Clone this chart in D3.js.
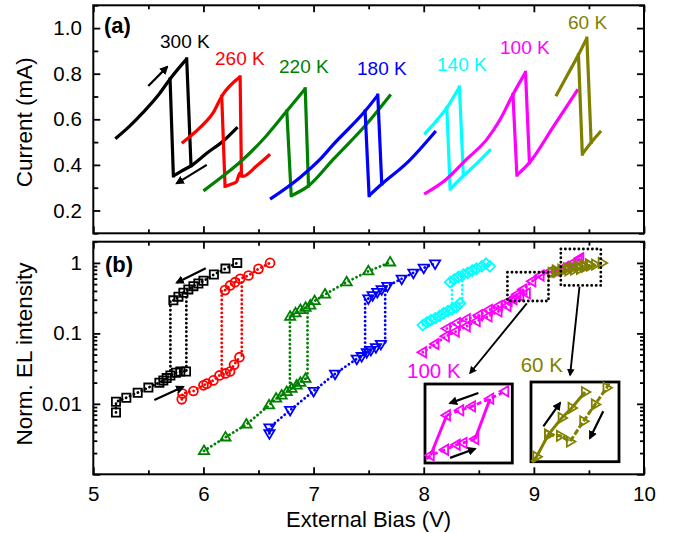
<!DOCTYPE html>
<html>
<head>
<meta charset="utf-8">
<script src="https://cdn.jsdelivr.net/npm/d3@7"></script>
<style>
  body { margin: 0; background: #fff; }
  text { font-family: "Liberation Sans", Arial, sans-serif; }
</style>
</head>
<body>
<div class="fig"></div>
<script>
// ---- panel (a): current vs bias, [V, mA] ----
var up300 = [[5.2, 0.515], [5.33, 0.57], [5.45, 0.629], [5.6, 0.712], [5.697, 0.777], [5.848, 0.865]];
var lo300 = [[5.727, 0.352], [5.8, 0.373], [5.887, 0.396], [6.03, 0.451], [6.18, 0.505], [6.31, 0.566]];
var jp300 = [[[5.848, 0.865], [5.887, 0.396]], [[5.727, 0.352], [5.697, 0.777]]];

var up260 = [[5.803, 0.495], [5.968, 0.563], [6.09, 0.63], [6.166, 0.701], [6.333, 0.786]];
var lo260 = [[6.196, 0.306], [6.25, 0.315], [6.3, 0.326], [6.33, 0.364], [6.357, 0.35], [6.484, 0.396], [6.605, 0.447]];
var jp260 = [[[6.333, 0.786], [6.345, 0.352]], [[6.196, 0.306], [6.166, 0.701]]];

var up220 = [[6.0, 0.286], [6.18, 0.352], [6.362, 0.425], [6.57, 0.527], [6.757, 0.636], [6.924, 0.734]];
var lo220 = [[6.797, 0.265], [6.954, 0.308], [7.18, 0.425], [7.48, 0.578], [7.701, 0.709]];
var jp220 = [[[6.924, 0.734], [6.954, 0.308]], [[6.797, 0.265], [6.757, 0.636]]];

var up180 = [[6.605, 0.25], [6.877, 0.345], [7.06, 0.425], [7.18, 0.49], [7.468, 0.636], [7.583, 0.706]];
var lo180 = [[7.504, 0.265], [7.619, 0.316], [7.85, 0.41], [8.11, 0.549]];
var jp180 = [[[7.583, 0.706], [7.619, 0.316]], [[7.504, 0.265], [7.468, 0.636]]];

var up140 = [[8.004, 0.534], [8.1, 0.585], [8.21, 0.651], [8.324, 0.742]];
var lo140 = [[8.24, 0.294], [8.36, 0.352], [8.49, 0.41], [8.61, 0.469]];
var jp140 = [[[8.324, 0.742], [8.36, 0.352]], [[8.24, 0.294], [8.21, 0.651]]];

var up100 = [[8.004, 0.272], [8.2, 0.335], [8.39, 0.425], [8.573, 0.512], [8.695, 0.6], [8.81, 0.709], [8.924, 0.806]];
var lo100 = [[8.846, 0.355], [8.96, 0.41], [9.18, 0.57], [9.4, 0.731]];
var jp100 = [[[8.924, 0.806], [8.96, 0.41]], [[8.846, 0.355], [8.81, 0.709]]];

var up60 = [[9.2, 0.701], [9.3, 0.79], [9.405, 0.883], [9.481, 0.956]];
var lo60 = [[9.44, 0.447], [9.52, 0.498], [9.61, 0.549]];
var jp60 = [[[9.481, 0.956], [9.52, 0.498]], [[9.44, 0.447], [9.405, 0.883]]];

var temps = ["300 K", "260 K", "220 K", "180 K", "140 K", "100 K", "60 K"];
var colors = ["#000000", "#ff0000", "#008000", "#0000ff", "#00ffff", "#ff00ff", "#808000"];

// ---- panel (b): normalized EL vs bias, [V, EL] ----
var el300Lo = [[5.206, 0.00755], [5.206, 0.0107], [5.3, 0.0122], [5.403, 0.0144], [5.5, 0.017], [5.6, 0.02], [5.636, 0.0215], [5.666, 0.0232], [5.7, 0.0253], [5.75, 0.0276], [5.79, 0.0288], [5.842, 0.0288]];
var el300Up = [[5.727, 0.294], [5.773, 0.332], [5.818, 0.378], [5.863, 0.421], [5.909, 0.468], [5.954, 0.511], [6.0, 0.557], [6.095, 0.684], [6.2, 0.83], [6.307, 1.0]];
var el300Jp = [[[5.7, 0.0297], [5.7, 0.288]], [[5.845, 0.0297], [5.845, 0.421]]];

var el260Lo = [[5.803, 0.0116], [5.81, 0.014], [5.909, 0.0152], [6.0, 0.0183], [6.03, 0.0193], [6.09, 0.0215], [6.145, 0.0253], [6.2, 0.027], [6.242, 0.0288], [6.278, 0.0358], [6.327, 0.0459]];
var el260Up = [[6.196, 0.411], [6.242, 0.479], [6.287, 0.533], [6.333, 0.595], [6.409, 0.663], [6.5, 0.823], [6.605, 1.0]];
var el260Jp = [[[6.166, 0.0314], [6.166, 0.421]], [[6.348, 0.0484], [6.348, 0.582]]];

var el220Lo = [[6.005, 0.00215], [6.2, 0.00335], [6.39, 0.0051], [6.596, 0.00955], [6.66, 0.0119], [6.71, 0.0132], [6.756, 0.0148], [6.8, 0.0164], [6.846, 0.0183], [6.88, 0.02], [6.927, 0.0227]];
var el220Up = [[6.787, 0.173], [6.836, 0.193], [6.88, 0.215], [6.927, 0.232], [6.97, 0.25], [7.01, 0.288], [7.104, 0.358], [7.3, 0.533], [7.497, 0.762], [7.695, 1.02]];
var el220Jp = [[[6.785, 0.015], [6.785, 0.165]], [[6.945, 0.0235], [6.945, 0.2]]];

var el180Lo = [[6.599, 0.0038], [6.599, 0.0046], [6.787, 0.00813], [7.0, 0.0152], [7.195, 0.0267], [7.392, 0.0435], [7.437, 0.0474], [7.483, 0.054], [7.52, 0.058], [7.566, 0.0635], [7.611, 0.0707]];
var el180Up = [[7.497, 0.311], [7.536, 0.347], [7.578, 0.386], [7.618, 0.421], [7.67, 0.468], [7.8, 0.595], [7.906, 0.723], [8.0, 0.85], [8.103, 0.977]];
var el180Jp = [[[7.468, 0.0484], [7.468, 0.31]], [[7.65, 0.0747], [7.65, 0.445]]];

var el140Lo = [[7.992, 0.131], [8.03, 0.143], [8.066, 0.154], [8.105, 0.164], [8.145, 0.177], [8.18, 0.193], [8.22, 0.208], [8.257, 0.22], [8.297, 0.237], [8.33, 0.267]];
var el140Up = [[8.24, 0.533], [8.277, 0.582], [8.316, 0.635], [8.36, 0.684], [8.4, 0.723], [8.44, 0.779], [8.48, 0.831], [8.527, 0.895], [8.566, 0.977], [8.6, 0.895]];
var el140Jp = [[[8.257, 0.232], [8.257, 0.495]], [[8.35, 0.273], [8.35, 0.648]]];

var el100Lo = [[7.992, 0.054], [8.105, 0.0707], [8.2, 0.0907], [8.29, 0.106], [8.39, 0.126], [8.48, 0.149], [8.587, 0.174], [8.678, 0.205], [8.76, 0.245], [8.815, 0.305], [8.875, 0.34], [8.935, 0.37]];
var el100Up = [[8.21, 0.117], [8.3, 0.14], [8.39, 0.159], [8.5, 0.181], [8.59, 0.215], [8.68, 0.245], [8.77, 0.288], [8.85, 0.358], [8.905, 0.421], [8.985, 0.55], [9.06, 0.663], [9.14, 0.747], [9.21, 0.762], [9.284, 0.878], [9.345, 0.977], [9.405, 1.09], [9.42, 1.17]];

var el60Lo = [[9.163, 0.723], [9.214, 0.747], [9.263, 0.779], [9.314, 0.787], [9.366, 0.805], [9.42, 0.823], [9.466, 0.878], [9.511, 0.916], [9.557, 0.946], [9.617, 1.0]];
var el60Up = [[9.2, 0.78], [9.25, 0.8], [9.3, 0.84], [9.35, 0.86], [9.4, 0.9], [9.45, 0.93], [9.5, 0.96]];

// zoom boxes [V0, V1, EL0, EL1]
var box100 = [8.76, 9.133, 0.288, 0.737];
var box60 = [9.245, 9.608, 0.479, 1.575];

// insets
var ins100Lo = [[8.767, 0.302], [8.784, 0.316], [8.845, 0.337], [8.895, 0.358], [8.924, 0.366], [8.974, 0.383]];
var ins100Up = [[8.853, 0.508], [8.91, 0.539], [8.96, 0.565], [9.038, 0.619], [9.102, 0.676]];
var ins100Jp = [[[8.784, 0.316], [8.853, 0.508]], [[8.974, 0.383], [9.038, 0.619]]];
var ins60Up = [[9.247, 0.479], [9.268, 0.516], [9.316, 0.716], [9.372, 0.921], [9.413, 1.069], [9.468, 1.355]];
var ins60Dn = [[9.567, 1.55], [9.557, 1.445], [9.509, 1.125], [9.461, 0.875], [9.406, 0.647], [9.365, 0.705], [9.316, 0.716]];

var xMajor = [5, 6, 7, 8, 9, 10];
var xMinor = [5.5, 6.5, 7.5, 8.5, 9.5];
var aLabels = [0.2, 0.4, 0.6, 0.8, 1.0];
var aMinor = [0.1, 0.3, 0.5, 0.7, 0.9, 1.1];
var bLabels = [0.01, 0.1, 1];

// ---- layout ----
var width = 681, height = 533;
var left = 93.3, right = 644;
var aTop = 5.3, aBot = 233.3, bTop = 241.7, bBot = 474.3;

var svg = d3.select(".fig").append("svg").attr("width", width).attr("height", height);

var x = d3.scaleLinear().domain([5, 10]).range([left, right]);
var yA = d3.scaleLinear().domain([0.1, 1.1]).range([aBot, aTop]);
var yB = d3.scaleLog().domain([0.001, 2]).range([bBot, bTop]);

var font = "'Liberation Sans', Arial, sans-serif";

function tickAxis(axis, tx, ty, vals, size, fmt, pad) {
  var g = svg.append("g")
    .attr("transform", `translate(${tx},${ty})`)
    .call(axis.tickValues(vals).tickSize(size).tickPadding(pad || 3).tickFormat(fmt || ""));
  g.select(".domain").remove();
  g.selectAll("line").attr("stroke-width", 1.8);
  g.attr("font-size", 20.5).attr("font-family", font);
  return g;
}

// x ticks both panels, inward
[[aTop, aBot], [bTop, bBot]].forEach(p => {
  tickAxis(d3.axisTop(x), 0, p[0], xMajor, -7);
  tickAxis(d3.axisTop(x), 0, p[0], xMinor, -4);
  tickAxis(d3.axisBottom(x), 0, p[1], xMinor, -4);
});
tickAxis(d3.axisBottom(x), 0, aBot, xMajor, -7);
tickAxis(d3.axisBottom(x), 0, bBot, xMajor, -7, d3.format("d"), 12.5);

// panel a y ticks
tickAxis(d3.axisLeft(yA), left, 0, aLabels, -7, d3.format(".1f"), 11.5);
tickAxis(d3.axisLeft(yA), left, 0, aMinor, -5);
tickAxis(d3.axisRight(yA), right, 0, aLabels, -7);
tickAxis(d3.axisRight(yA), right, 0, aMinor, -5);

// panel b y ticks (log)
var bMajor = [0.001, 0.01, 0.1, 1];
var bMinor = [];
bMajor.forEach(d => d3.range(2, 10).forEach(k => { if (d * k <= 2) bMinor.push(d * k); }));
tickAxis(d3.axisLeft(yB), left, 0, bLabels, -7, d => String(d), 11.5);
tickAxis(d3.axisLeft(yB), left, 0, [0.001], -7);
tickAxis(d3.axisLeft(yB), left, 0, bMinor, -4);
tickAxis(d3.axisRight(yB), right, 0, bMajor, -7);
tickAxis(d3.axisRight(yB), right, 0, bMinor, -4);

// frames
[[aTop, aBot], [bTop, bBot]].forEach(p => {
  svg.append("rect").attr("x", left).attr("y", p[0])
    .attr("width", right - left).attr("height", p[1] - p[0])
    .attr("fill", "none").attr("stroke", "#000").attr("stroke-width", 2);
});

// arrowhead marker
svg.append("defs").append("marker")
  .attr("id", "head").attr("viewBox", "0 0 10 10").attr("refX", 8).attr("refY", 5)
  .attr("markerWidth", 4).attr("markerHeight", 4).attr("orient", "auto")
  .attr("markerUnits", "strokeWidth")
  .append("path").attr("d", "M0,0L10,5L0,10z").attr("fill", "#000");

function arrow(sx, sy, p0, p1, w) {
  svg.append("line")
    .attr("x1", sx(p0[0])).attr("y1", sy(p0[1]))
    .attr("x2", sx(p1[0])).attr("y2", sy(p1[1]))
    .attr("stroke", "#000").attr("stroke-width", w || 2.2).attr("marker-end", "url(#head)");
}

// ---- panel (a) curves ----
var gA = svg.append("g");
var lineA = d3.line().x(d => x(d[0])).y(d => yA(d[1])).curve(d3.curveMonotoneX);
var lineA0 = d3.line().x(d => x(d[0])).y(d => yA(d[1]));
var curves = [
  [up300, lo300, jp300], [up260, lo260, jp260], [up220, lo220, jp220], [up180, lo180, jp180],
  [up140, lo140, jp140], [up100, lo100, jp100], [up60, lo60, jp60]
];
curves.forEach((c, i) => {
  [c[0], c[1]].forEach(arr => {
    gA.append("path").attr("d", lineA(arr)).attr("fill", "none")
      .attr("stroke", colors[i]).attr("stroke-width", 3.2);
  });
  c[2].forEach(seg => {
    gA.append("path").attr("d", lineA0(seg)).attr("fill", "none")
      .attr("stroke", colors[i]).attr("stroke-width", 3.2).attr("stroke-linecap", "square");
  });
});

var labelPos = [[160, 47.7], [215, 65], [279, 72.7], [357, 75], [437, 70.7], [500, 54.3], [568, 29]];
temps.forEach((t, i) => {
  svg.append("text").attr("x", labelPos[i][0]).attr("y", labelPos[i][1])
    .attr("font-size", 19).attr("fill", colors[i]).text(t);
});

arrow(x, yA, [5.499, 0.746], [5.671, 0.83]);
arrow(x, yA, [6.03, 0.40], [5.757, 0.319]);

svg.append("text").attr("x", 104).attr("y", 33).attr("font-size", 22)
  .attr("font-weight", "bold").text("(a)");

// ---- panel (b) ----
var shapes = {
  square: "M-4.1,-4.1h8.2v8.2h-8.2z",
  circle: d3.symbol(d3.symbolCircle, 62)(),
  up: "M0,-5.4L5.1,3.2L-5.1,3.2z",
  down: "M0,5.4L5.1,-3.2L-5.1,-3.2z",
  diamond: "M0,-5.3L5.3,0L0,5.3L-5.3,0z",
  left: "M-5.4,0L3.2,-5.1L3.2,5.1z",
  right: "M5.4,0L-3.2,-5.1L-3.2,5.1z"
};

var elSeries = [
  { c: colors[0], s: "square", rows: [el300Lo, el300Up], jumps: el300Jp },
  { c: colors[1], s: "circle", rows: [el260Lo, el260Up], jumps: el260Jp },
  { c: colors[2], s: "up", rows: [el220Lo, el220Up], jumps: el220Jp },
  { c: colors[3], s: "down", rows: [el180Lo, el180Up], jumps: el180Jp },
  { c: colors[4], s: "diamond", rows: [el140Lo, el140Up], jumps: el140Jp },
  { c: colors[5], s: "left", rows: [el100Lo, el100Up], jumps: [] },
  { c: colors[6], s: "right", rows: [el60Lo, el60Up], jumps: [] }
];

var lineB = d3.line().x(d => x(d[0])).y(d => yB(d[1]));
var gB = svg.append("g");
function dotted(g, path, color) {
  g.append("path").attr("d", path).attr("fill", "none").attr("stroke", color)
    .attr("stroke-width", 2.8).attr("stroke-linecap", "round").attr("stroke-dasharray", "0.1,4.2");
}
elSeries.forEach(s => {
  s.rows.forEach(r => dotted(gB, lineB(r), s.c));
  s.jumps.forEach(j => dotted(gB, lineB(j), s.c));
});
// solid trace along the 100 K reverse row
gB.append("path").attr("d", lineB(el100Up.slice(9))).attr("fill", "none")
  .attr("stroke", colors[5]).attr("stroke-width", 1.8);

elSeries.forEach(s => {
  s.rows.forEach(r => {
    gB.selectAll(null).data(r).enter().append("path")
      .attr("d", shapes[s.s])
      .attr("transform", d => `translate(${x(d[0])},${yB(d[1])})`)
      .attr("fill", "none").attr("stroke", s.c).attr("stroke-width", 1.8);
  });
});

// dotted zoom boxes
[box100, box60].forEach(b => {
  svg.append("rect")
    .attr("x", x(b[0])).attr("y", yB(b[3]))
    .attr("width", x(b[1]) - x(b[0])).attr("height", yB(b[2]) - yB(b[3]))
    .attr("fill", "none").attr("stroke", "#000").attr("stroke-width", 2.8)
    .attr("stroke-linecap", "round").attr("stroke-dasharray", "0.1,4.4");
});

arrow(x, yB, [6.021, 0.838], [5.757, 0.524]);
arrow(x, yB, [5.554, 0.0113], [5.817, 0.0175]);
arrow(x, yB, [8.936, 0.267], [8.421, 0.0274], 1.9);
arrow(x, yB, [9.414, 0.459], [9.329, 0.0256], 1.9);

svg.append("text").attr("x", 105).attr("y", 272).attr("font-size", 22)
  .attr("font-weight", "bold").text("(b)");
svg.append("text").attr("x", 407).attr("y", 378).attr("font-size", 20.5)
  .attr("fill", colors[5]).text(temps[5]);
svg.append("text").attr("x", 520.7).attr("y", 371.7).attr("font-size", 20.5)
  .attr("fill", colors[6]).text(temps[6]);

// ---- insets ----
function inset(rect, box) {
  var ix = d3.scaleLinear().domain([box[0], box[1]]).range([rect[0], rect[2]]);
  var iy = d3.scaleLog().domain([box[2], box[3]]).range([rect[3], rect[1]]);
  svg.append("rect").attr("x", rect[0]).attr("y", rect[1])
    .attr("width", rect[2] - rect[0]).attr("height", rect[3] - rect[1])
    .attr("fill", "#fff").attr("stroke", "#000").attr("stroke-width", 2.8);
  return [ix, iy];
}
function insetLine(s, pts, color, dash, w) {
  svg.append("path").attr("d", d3.line().x(d => s[0](d[0])).y(d => s[1](d[1]))(pts))
    .attr("fill", "none").attr("stroke", color).attr("stroke-width", w)
    .attr("stroke-dasharray", dash);
}
function insetMarks(s, pts, color, shape) {
  svg.selectAll(null).data(pts).enter().append("path")
    .attr("d", shapes[shape])
    .attr("transform", d => `translate(${s[0](d[0])},${s[1](d[1])})`)
    .attr("fill", "none").attr("stroke", color).attr("stroke-width", 1.8);
}

var s1 = inset([425, 384, 512.3, 463], box100);
insetLine(s1, ins100Lo, colors[5], "5,3", 2.8);
insetLine(s1, ins100Up, colors[5], "5,3", 2.8);
ins100Jp.forEach(j => insetLine(s1, j, colors[5], null, 3));
insetMarks(s1, ins100Lo.slice(1), colors[5], "left");
insetMarks(s1, ins100Up, colors[5], "left");
arrow(s1[0], s1[1], [8.988, 0.662], [8.867, 0.587]);
arrow(s1[0], s1[1], [8.867, 0.306], [8.974, 0.341]);

var s2 = inset([531, 382, 619, 461.7], box60);
insetLine(s2, ins60Up, colors[6], null, 3);
insetLine(s2, ins60Dn, colors[6], "6,2", 3);
insetMarks(s2, ins60Up.slice(1), colors[6], "right");
insetMarks(s2, ins60Dn.slice(1), colors[6], "right");
arrow(s2[0], s2[1], [9.296, 0.811], [9.365, 1.153]);
arrow(s2[0], s2[1], [9.543, 1.017], [9.488, 0.681]);

// ---- axis titles ----
svg.append("text").attr("x", (left + right) / 2).attr("y", 527)
  .attr("text-anchor", "middle").attr("font-size", 22).text("External Bias (V)");
svg.append("text").attr("transform", `translate(32,${(aTop + aBot) / 2 + 3}) rotate(-90)`)
  .attr("text-anchor", "middle").attr("font-size", 22.5).text("Current (mA)");
svg.append("text").attr("transform", `translate(32,${(bTop + bBot) / 2 - 4}) rotate(-90)`)
  .attr("text-anchor", "middle").attr("font-size", 22.5).text("Norm. EL intensity");
</script>
</body>
</html>
